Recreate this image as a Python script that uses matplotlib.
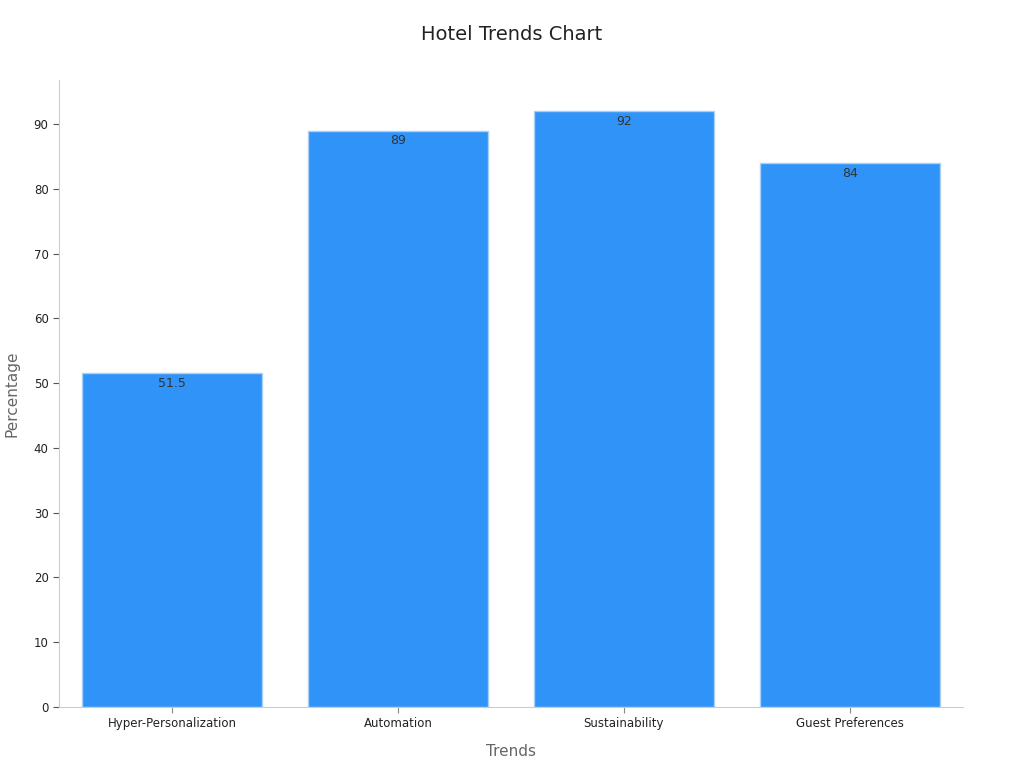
import matplotlib.pyplot as plt

# Chart data
trends = ['Hyper-Personalization', 'Automation', 'Sustainability', 'Guest Preferences']
percentages = [51.5, 89, 92, 84]
value_labels = ['51.5', '89', '92', '84']

fig = plt.figure(figsize=(10.24, 7.68), dpi=100)
ax = fig.add_axes([0.0576, 0.0794, 0.8828, 0.8164])

x = range(len(trends))
bars = ax.bar(x, percentages, width=0.8, color='#2f93f8', edgecolor='#a9d0f7', linewidth=1)

for b, lab in zip(bars, value_labels):
    ax.text(b.get_x() + b.get_width() / 2, b.get_height() - 0.6, lab,
            ha='center', va='top', fontsize=9, color='#333333')

ax.set_xticks(list(x))
ax.set_xticklabels(trends, fontsize=8.5, color='#222222')
ax.set_xlim(-0.5, 3.5)
ax.set_ylim(0, 96.8)
ax.set_yticks(range(0, 91, 10))
ax.tick_params(axis='y', labelsize=8.5, labelcolor='#222222', color='#555555', length=4)
ax.tick_params(axis='x', color='#888888', length=4)

ax.set_xlabel('Trends', fontsize=11, color='#666666', labelpad=10)
ax.set_ylabel('Percentage', fontsize=11, color='#666666', labelpad=10)

for s in ['top', 'right']:
    ax.spines[s].set_visible(False)
for s in ['left', 'bottom']:
    ax.spines[s].set_color('#cccccc')

fig.suptitle('Hotel Trends Chart', fontsize=14, color='#222222', y=0.968)

plt.savefig('out.png', dpi=100)
